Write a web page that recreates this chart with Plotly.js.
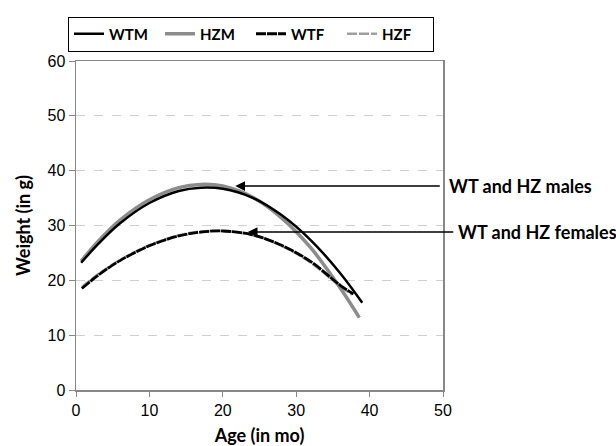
<!DOCTYPE html>
<html><head><meta charset="utf-8">
<script src="https://cdn.plot.ly/plotly-3.0.1.min.js"></script>
<style>html,body{margin:0;padding:0;background:#fff}#chart{width:616px;height:446px}</style>
</head><body><div id="chart"></div>
<script>
// Data
const wtmX = [0.7, 3, 6, 10, 14, 17, 20, 24, 28, 32, 36, 39];
const wtmY = [23.2, 26.6, 30.4, 34.1, 36.3, 36.9, 36.7, 35.1, 31.9, 27.3, 21.3, 15.9];
const hzmX = [0.7, 3, 6, 10, 14, 17, 20, 24, 28, 32, 36, 38.6];
const hzmY = [23.5, 27.1, 31.0, 34.7, 36.9, 37.5, 37.2, 35.2, 31.4, 25.9, 18.6, 13.2];
const wtfX = [0.8, 3, 6, 10, 14, 17, 20, 24, 28, 32, 36, 37.8];
const wtfY = [18.5, 20.9, 23.6, 26.3, 28.1, 28.8, 29.0, 28.3, 26.4, 23.4, 19.1, 17.5];
const hzfX = [0.8, 3, 6, 10, 14, 17, 20, 24, 28, 32, 36, 37.6];
const hzfY = [18.8, 21.1, 23.7, 26.4, 28.2, 28.9, 29.0, 28.3, 26.3, 23.2, 18.9, 17.4];
const seriesNames = ['WTM', 'HZM', 'WTF', 'HZF'];
const xTicks = [0, 10, 20, 30, 40, 50];
const yTicks = [0, 10, 20, 30, 40, 50, 60];
const arrowLabels = ['WT and HZ males', 'WT and HZ females'];
const arrowTipX = [21.7, 23.4];
const arrowTipY = [37.2, 28.8];

const traces = [
  {x: wtmX, y: wtmY, name: seriesNames[0], mode: 'lines', line: {color: '#000', width: 2.5, shape: 'spline'}},
  {x: hzmX, y: hzmY, name: seriesNames[1], mode: 'lines', line: {color: '#8c8c8c', width: 3.5, shape: 'spline'}},
  {x: wtfX, y: wtfY, name: seriesNames[2], mode: 'lines', line: {color: '#000', width: 2.8, shape: 'spline', dash: '10px,1px'}},
  {x: hzfX, y: hzfY, name: seriesNames[3], mode: 'lines', line: {color: '#a0a0a0', width: 2.5, shape: 'spline', dash: '10px,2px'}}
];
// Females: gray drawn first so black sits on top, as in the reference
const plotTraces = [traces[3], traces[1], traces[0], traces[2]];
plotTraces.forEach(t => { t.legendrank = seriesNames.indexOf(t.name) + 1; });

const tickFont = {family: 'Arial', size: 16, color: '#000'};
const titleFont = {family: 'Lato', size: 18, color: '#000', weight: 'bold'};

const annotations = [];
for (let i = 0; i < arrowLabels.length; i++) {
  annotations.push({
    x: arrowTipX[i], y: arrowTipY[i], xref: 'x', yref: 'y',
    text: '', showarrow: true, arrowhead: 2, arrowsize: 1.3, arrowwidth: 1.5,
    arrowcolor: '#000', ax: i === 0 ? 206 : 207, ay: 0
  });
  annotations.push({
    x: i === 0 ? 1.01 : 1.036, y: arrowTipY[i], xref: 'paper', yref: 'y',
    xanchor: 'left', yanchor: 'middle', text: '<b>' + arrowLabels[i] + '</b>', showarrow: false,
    font: {family: 'Lato', size: 18, color: '#000'}
  });
}

const layout = {
  width: 616, height: 446,
  margin: {l: 76, r: 173, t: 61, b: 56, autoexpand: false},
  paper_bgcolor: '#fff', plot_bgcolor: '#fff',
  showlegend: true,
  legend: {
    orientation: 'h', xref: 'container', yref: 'container',
    x: 68 / 616, xanchor: 'left', y: 1 - 34 / 446, yanchor: 'middle',
    bordercolor: '#000', borderwidth: 1, bgcolor: '#fff',
    font: {family: 'Lato', size: 15, color: '#000', weight: 'bold'},
    itemwidth: 30, entrywidth: 46, entrywidthmode: 'pixels',
    tracegroupgap: 0
  },
  xaxis: {
    range: [0, 50], tickvals: xTicks, ticktext: xTicks.map(String),
    showgrid: false, zeroline: false, showline: true, linecolor: '#888', linewidth: 1.5,
    mirror: true, ticks: 'outside', ticklen: 5, tickcolor: '#888',
    tickfont: tickFont,
    title: {text: 'Age (in mo)', font: titleFont, standoff: 11}
  },
  yaxis: {
    range: [0, 60], tickvals: yTicks, ticktext: yTicks.map(String),
    showgrid: true, gridcolor: '#d0d0d0', griddash: 'dash', gridwidth: 1,
    zeroline: false, showline: true, linecolor: '#888', linewidth: 1.5,
    mirror: true, ticks: 'outside', ticklen: 6, tickcolor: '#888',
    tickfont: tickFont,
    title: {text: 'Weight (in g)', font: titleFont, standoff: 12}
  },
  annotations: annotations
};

Plotly.newPlot('chart', plotTraces, layout, {displayModeBar: false, staticPlot: true});
</script></body></html>
